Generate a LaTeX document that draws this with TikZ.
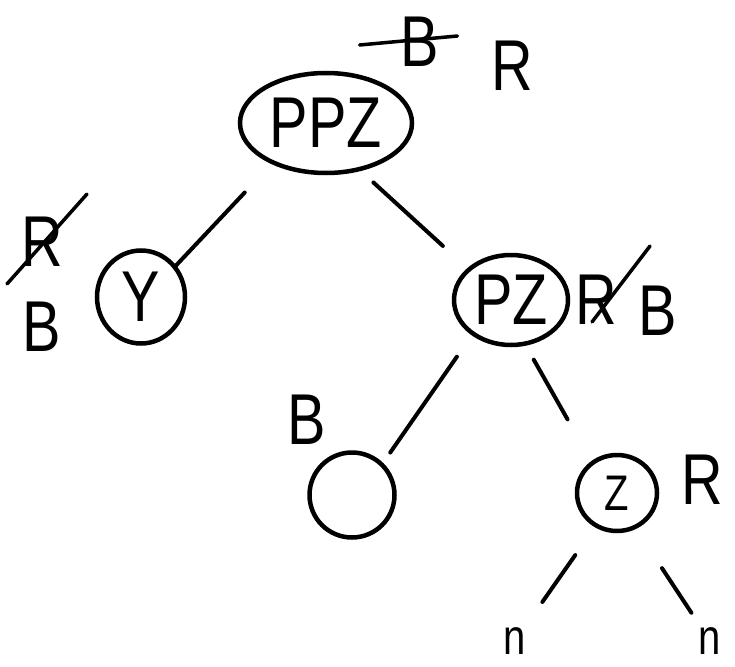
\documentclass[tikz,border=0pt]{standalone}
\usepackage{fontspec}
\newfontfamily\hand{Liberation Sans}[FakeStretch=0.8]
\usetikzlibrary{shapes}

\begin{document}
\begin{tikzpicture}[x=1pt,y=-1pt,
  every node/.style={inner sep=0pt,font=\hand\fontsize{72}{80}\selectfont},%
  o/.style={ellipse,draw,line width=4.5pt},%
  e/.style={line width=4pt,line cap=round},%
  sk/.style={line width=3.5pt,line cap=round},%
  sm/.style={font=\hand\fontsize{50}{56}\selectfont},%
  ]
  \useasboundingbox (0,0) rectangle (735,666);

  \node (ppz) [o,minimum width=172pt,minimum height=100pt] at (326,123) {PPZ};
  \node (y) [o,minimum width=88pt,minimum height=93pt] at (141,297) {Y};
  \node (pz) [o,minimum width=114pt,minimum height=90pt] at (511,300) {PZ};
  \node (nil) [o,minimum width=85pt,minimum height=85pt] at (352,495) {};
  \node (z) [o,sm,minimum width=80pt,minimum height=76pt] at (617,493) {Z};
  \node (nl) [sm] at (515,641) {n};
  \node (nr) [sm] at (710,641) {n};

  % colours, old ones struck out
  \node (bt) at (420,42) {B};
  \node (rt) at (512,66) {R};
  \node (rl) at (42,242) {R};
  \node (bl) at (42,327) {B};
  \node (rpz) at (596,300) {R};
  \node (bpz) at (658,311) {B};
  \node (bn) at (307,420) {B};
  \node (rz) at (702,480) {R};

  \draw [sk] ([xshift=-41pt,yshift=-3pt]bt.west) -- ([xshift=18pt,yshift=6pt]bt.east);
  \draw [sk] ([xshift=-14pt,yshift=-17pt]rl.south west) -- ([xshift=24pt,yshift=23pt]rl.north east);
  \draw [sk] ([xshift=-4pt,yshift=3pt]rpz.south) -- ([xshift=33pt,yshift=29pt]rpz.north east);

  \draw [e,shorten <=39pt] (ppz.217.6) -- (y.42);
  \draw [e,shorten <=17pt,shorten >=33pt] (ppz.-54.4) -- (pz.144);
  \draw [e,shorten <=26pt,shorten >=12.5pt] (pz.222.4) -- (nil.46.5);
  \draw [e,shorten <=16pt,shorten >=48pt] (pz.-72.2) -- (z.129);
  \draw [e,shorten <=34pt,shorten >=31pt] (z.237.2) -- (nl);
  \draw [e,shorten <=47pt,shorten >=17.5pt] (z.-62) -- (nr);
\end{tikzpicture}
\end{document}
